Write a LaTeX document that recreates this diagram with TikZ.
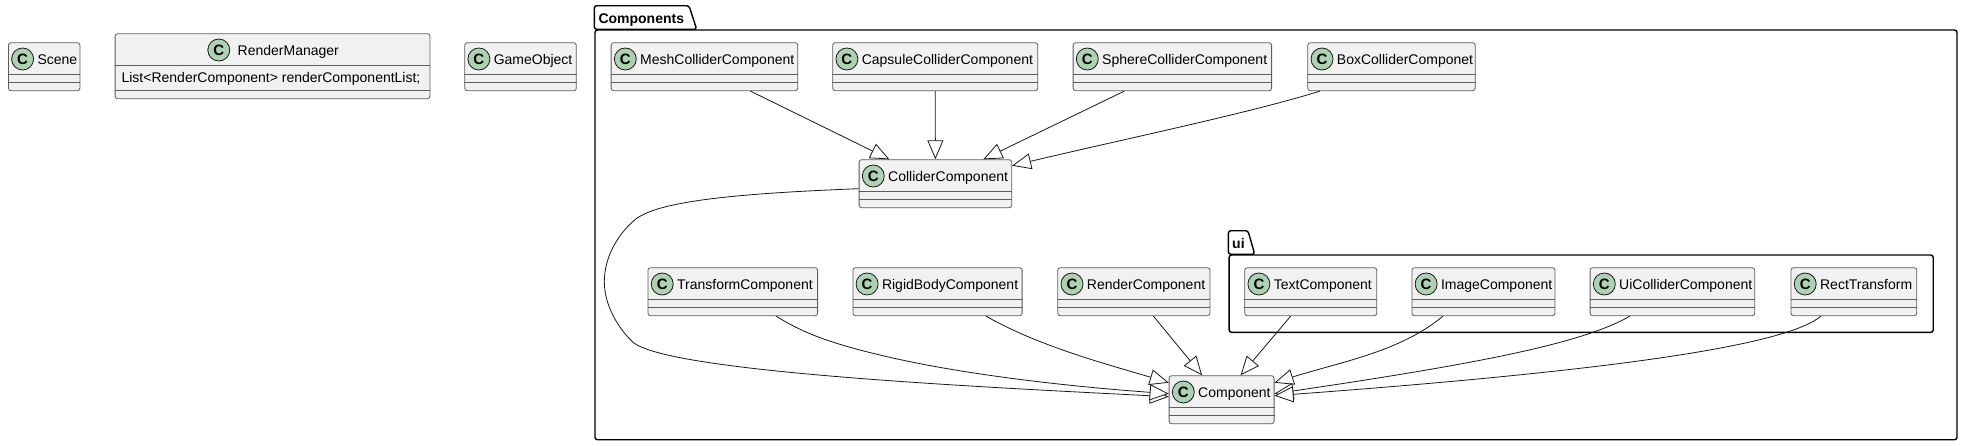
\documentclass[tikz,border=0pt]{standalone}
\usepackage{fontspec}
\setmainfont{Liberation Sans}
\usepackage{xcolor}
\usetikzlibrary{arrows.meta}
\definecolor{classfig}{RGB}{241, 241, 241}
\definecolor{spotfig}{RGB}{173, 209, 178}
\definecolor{linefig}{RGB}{24, 24, 24}
\tikzset{
    classbox/.style={draw=linefig!70, line width=0.8pt, fill=classfig, rounded corners=2.5pt, anchor=north west, minimum height=48pt, inner sep=0pt},
    classline/.style={draw=linefig!70, line width=0.8pt},
    classlabel/.style={anchor=base west, inner sep=0pt, text=black, font=\fontsize{14}{16}\selectfont},
    spot/.style={circle, draw=linefig, line width=0.8pt, fill=spotfig, minimum size=22pt, inner sep=0pt, font=\fontsize{15}{15}\selectfont\bfseries},
    pkgbox/.style={draw=black, line width=1.4pt, fill=white, rounded corners=2.5pt, anchor=north west, inner sep=0pt},
    pkgtab/.style={draw=black, line width=1.4pt, fill=white, rounded corners=2.5pt},
    pkglabel/.style={anchor=base west, inner sep=0pt, font=\fontsize{14}{16}\selectfont\bfseries},
    extends/.style={draw=linefig, line width=0.8pt, -{Triangle[open, fill=white, length=19pt, width=16pt]}}
}
\newcommand{\umlclass}[5]{
    \node[classbox, minimum width=#4pt] (#1) at (#2,#3) {};
    \draw[classline] ([yshift=-31.7pt]#1.north west) -- ([yshift=-31.7pt]#1.north east);
    \draw[classline] ([yshift=-39.7pt]#1.north west) -- ([yshift=-39.7pt]#1.north east);
    \node[spot] (#1spot) at ([shift={(14.6pt,-16.7pt)}]#1.north west) {C};
    \node[classlabel] (#1label) at ([shift={(29.3pt,-21.7pt)}]#1.north west) {#5};
}

\begin{document}
\begin{tikzpicture}[x=1pt, y=-1pt]
        \useasboundingbox (0,0) rectangle (1962,445);
        % packages
        \draw[pkgtab] (594.3,29.3) -- (594.3,5.7) -- (689,5.7) -- (696.7,29.3) -- cycle;
        \node[pkgbox, minimum width=1362pt, minimum height=409.7pt] (components) at (594.3,29.3) {};
        \node[pkglabel] (componentslabel) at (598.3,23) {Components};
        \draw[pkgtab] (1228.4,254.3) -- (1228.4,230.7) -- (1248,230.7) -- (1254.7,254.3) -- cycle;
        \node[pkgbox, minimum width=704.1pt, minimum height=77.4pt] (ui) at (1228.4,254.3) {};
        \node[pkglabel] (uilabel) at (1232,248) {ui};
        % classes
        \umlclass{scene}{8}{42.3}{71.5}{Scene}
        \umlclass{gameobject}{464.3}{42.3}{111.6}{GameObject}
        \umlclass{mesh}{610.7}{42.3}{186.6}{MeshColliderComponent}
        \umlclass{capsule}{832.3}{42.3}{205}{CapsuleColliderComponent}
        \umlclass{sphere}{1072.7}{42.3}{198.5}{SphereColliderComponent}
        \umlclass{box}{1307.4}{42.3}{167.4}{BoxColliderComponet}
        \umlclass{collider}{858.7}{159.3}{152.6}{ColliderComponent}
        \umlclass{transform}{647.6}{267.3}{169.6}{TransformComponent}
        \umlclass{rigidbody}{852.5}{267.3}{169.2}{RigidBodyComponent}
        \umlclass{render}{1057.4}{267.3}{152.2}{RenderComponent}
        \umlclass{text}{1244.3}{267.3}{132}{TextComponent}
        \umlclass{image}{1411.5}{267.3}{143}{ImageComponent}
        \umlclass{uicollider}{1589.7}{267.3}{164.6}{UiColliderComponent}
        \umlclass{rect}{1790.6}{267.3}{125.8}{RectTransform}
        \umlclass{component}{1168.7}{375.3}{105}{Component}
        % render manager has a member
        \node[classbox, minimum width=314.8pt, minimum height=65pt] (manager) at (114.7,33.3) {};
        \draw[classline] ([yshift=-32pt]manager.north west) -- ([yshift=-32pt]manager.north east);
        \draw[classline] ([yshift=-56.8pt]manager.north west) -- ([yshift=-56.8pt]manager.north east);
        \node[spot] (managerspot) at (218.8,50) {C};
        \node[classlabel] (managerlabel) at (237.5,55) {RenderManager};
        \node[classlabel] (managermember) at (121.4,82.5) {List<RenderComponent> renderComponentList;};
        % connectors
        \draw[extends] ([xshift=46pt]mesh.south) -- ([xshift=-46pt]collider.north);
        \draw[extends] (capsule.south) -- (collider.north);
        \draw[extends] ([xshift=-48pt]sphere.south) -- ([xshift=48pt]collider.north);
        \draw[extends] ([xshift=-71.6pt]box.south) .. controls (1250,113) and (1120,140) .. ([yshift=-6.4pt]collider.north east);
        \draw[extends] ([yshift=-5pt]collider.west) .. controls (720,194) and (655,203) .. (634.6,220)
            .. controls (617,235) and (604.3,258) .. (604.3,281.7)
            .. controls (604.3,305) and (618,328) .. (632.4,341.7)
            .. controls (665,372) and (980,387) .. ([yshift=3pt]component.west);
        \draw[extends] ([xshift=-42pt]transform.south east) .. controls (800,331) and (825,342) .. (880,355)
            .. controls (950,372) and (1050,385) .. ([yshift=6pt]component.west);
        \draw[extends] ([xshift=48.5pt]rigidbody.south) .. controls (1040,347) and (1110,365) .. ([yshift=17pt]component.west);
        \draw[extends] ([xshift=19.5pt]render.south) -- ([xshift=-19.5pt]component.north);
        \draw[extends] ([xshift=-20pt]text.south) -- ([xshift=19pt]component.north);
        \draw[extends] ([xshift=-40.4pt]image.south) .. controls (1400,352) and (1340,362) .. ([yshift=17pt]component.east);
        \draw[extends] ([xshift=-42.5pt]uicollider.south) .. controls (1585,342) and (1490,362) .. ([yshift=6pt]component.east);
        \draw[extends] ([xshift=-32.9pt]rect.south) .. controls (1790,342) and (1650,368) .. ([yshift=4pt]component.east);
\end{tikzpicture}
\end{document}
